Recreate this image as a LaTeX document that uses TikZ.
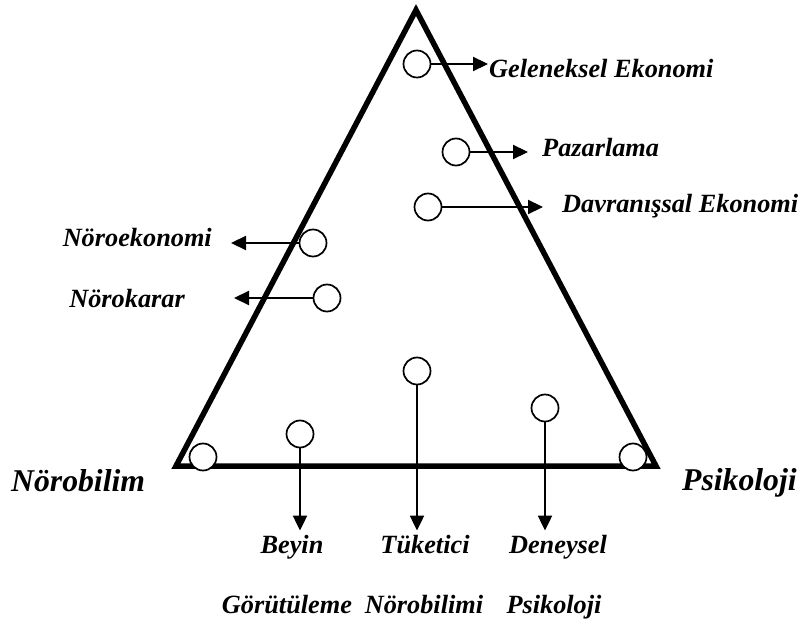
\documentclass[tikz,border=0pt]{standalone}
\usepackage{fontspec}
\setmainfont{Liberation Serif}
\usetikzlibrary{arrows.meta, shapes, positioning}

\tikzset{
  dot/.style={draw, circle, minimum size=27pt, inner sep=0pt, line width=1.7pt, fill=white},
  lbl/.style={inner sep=0pt, font=\fontsize{26.3}{29}\selectfont\bfseries\itshape},
  big/.style={inner sep=0pt, font=\fontsize{31.7}{34}\selectfont\bfseries\itshape},
  arr/.style={line width=2.2pt, -{Triangle[length=15pt, width=14pt]}}
}

\begin{document}
\begin{tikzpicture}[x=1pt, y=-1pt]
  \useasboundingbox (0,0) rectangle (803,628);

  % Triangle
  \draw[line width=5.5pt, line join=miter] (416,10) -- (656,466) -- (176,466) -- cycle;

  % Nodes
  \node[dot] (ge) at (417,64) {};
  \node[dot] (pa) at (456,152) {};
  \node[dot] (da) at (428,207) {};
  \node[dot] (ne) at (313,243) {};
  \node[dot] (nk) at (327,298) {};
  \node[dot] (bl) at (203,457) {};
  \node[dot] (be) at (300,434) {};
  \node[dot] (tu) at (417,371) {};
  \node[dot] (de) at (545,408) {};
  \node[dot] (ps) at (633,457) {};

  \node[lbl, anchor=base west] (geL) at (489,78) {Geleneksel Ekonomi};
  \node[lbl, anchor=base west] (paL) at (542,157) {Pazarlama};
  \node[lbl, anchor=base west] (daL) at (562,213) {Davranışsal Ekonomi};
  \node[lbl, anchor=base east] (neL) at (212,247) {Nöroekonomi};
  \node[lbl, anchor=base east] (nkL) at (185,308) {Nörokarar};
  \node[big, anchor=base west] (blL) at (11,491) {Nörobilim};
  \node[big, anchor=base west] (psL) at (682,490) {Psikoloji};

  \node[lbl, anchor=base] (beL) at (292,553) {Beyin};
  \node[lbl, anchor=base] (beL2) at (287,613) {Görütüleme};
  \node[lbl, anchor=base] (tuL) at (425,553) {Tüketici};
  \node[lbl, anchor=base] (tuL2) at (424,613) {Nörobilimi};
  \node[lbl, anchor=base] (deL) at (558,553) {Deneysel};
  \node[lbl, anchor=base] (deL2) at (554,613) {Psikoloji};

  % Edges
  \draw[arr, shorten >=1pt] (ge.east) -- (ge.east -| geL.west);
  \draw[arr, shorten >=14pt] (pa.east) -- (pa.east -| paL.west);
  \draw[arr, shorten >=19pt] (da.east) -- (da.east -| daL.west);
  \draw[arr, shorten >=19pt] (ne.west) -- (ne.west -| neL.east);
  \draw[arr, shorten >=49pt] (nk.west) -- (nk.west -| nkL.east);
  \draw[arr, shorten >=4pt] (be.south) -- (be.south |- beL.north);
  \draw[arr, shorten >=4pt] (tu.south) -- (tu.south |- tuL.north);
  \draw[arr, shorten >=4pt] (de.south) -- (de.south |- deL.north);

\end{tikzpicture}
\end{document}
